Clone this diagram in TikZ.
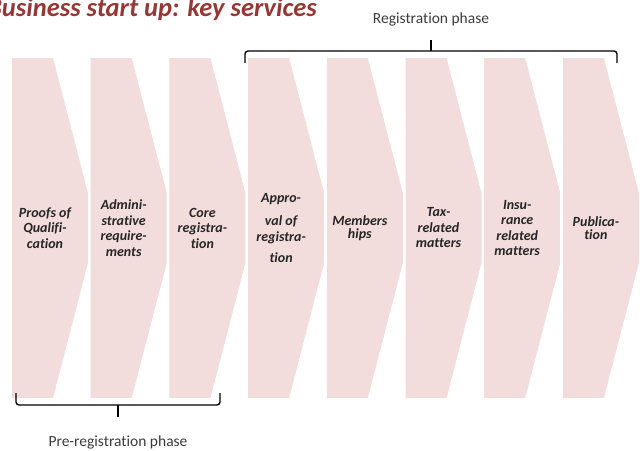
\documentclass[tikz,border=0pt]{standalone}
\usepackage{fontspec}
\setmainfont{Carlito}[Ligatures=NoCommon]
\usetikzlibrary{positioning}
\definecolor{stepbg}{RGB}{242,220,220}
\definecolor{titlered}{RGB}{150,55,53}
\definecolor{phasegray}{RGB}{60,60,60}

\begin{document}
\begin{tikzpicture}[x=1pt,y=-1pt,
    lbl/.style={font=\fontsize{14}{15.5}\selectfont\bfseries\itshape,align=center,text=black!85,inner sep=0pt},
    phase/.style={font=\fontsize{15.5}{17}\selectfont,text=phasegray,inner sep=0pt},
    brace/.style={draw=black,line width=1.4pt,rounded corners=3pt}]
  \useasboundingbox (0,0) rectangle (640,450);
  % title
  \node[anchor=base east,inner sep=0pt,text=titlered,
    font=\fontsize{26.5}{30}\selectfont\bfseries\itshape] (title) at (317,16.5) {Business start up: key services};
  % step shapes
  \foreach \i/\txt in {1/{Proofs of\\Qualifi-\\cation},
      2/{Admini-\\strative\\require-\\ments},
      3/{Core\\registra-\\tion},
      4/{Appro-\\[8pt]val of\\registra-\\[6pt]tion},
      5/{Members\\[-2pt]hips},
      6/{Tax-\\related\\matters},
      7/{Insu-\\rance\\related\\matters},
      8/{Publica-\\[-2pt]tion}} {
    \pgfmathsetmacro{\xo}{12+78.7*(\i-1)}
    \fill[stepbg] (\xo,58) -- ++(41,0) -- ++(35,135) -- ++(0,70) -- ++(-35,135) -- ++(-41,0) -- cycle;
    \node[lbl] (s\i) at (\xo+33,228) {\txt};
  }
  % phases
  \node[phase] (regphase) at (431,19) {Registration phase};
  \node[phase] (prephase) at (118,442) {Pre-registration phase};
  \draw[brace] (245,63) -- (245,51) -- (617,51) -- (617,63);
  \draw[brace] (431,51) -- (431,40);
  \draw[brace] (16,393) -- (16,405) -- (220,405) -- (220,393);
  \draw[brace] (118,405) -- (118,417);
\end{tikzpicture}
\end{document}
